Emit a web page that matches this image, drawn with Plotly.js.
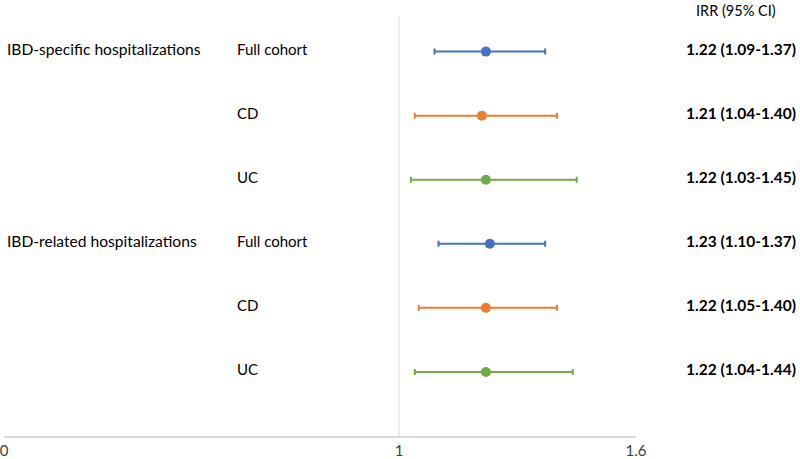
<!DOCTYPE html>
<html>
<head>
<meta charset="utf-8">
<script src="https://cdn.plot.ly/plotly-3.0.1.min.js"></script>
<style>html,body{margin:0;padding:0;background:#fff;}#chart{width:800px;height:459px;}</style>
</head>
<body>
<div id="chart"></div>
<script>
// ---- data ----
const groups = ["IBD-specific hospitalizations", "IBD-related hospitalizations"];
const subgroups = ["Full cohort", "CD", "UC"];
const rows = [1, 2, 3, 4, 5, 6];
const irr = [1.22, 1.21, 1.22, 1.23, 1.22, 1.22];
const ciLow = [1.09, 1.04, 1.03, 1.10, 1.05, 1.04];
const ciHigh = [1.37, 1.40, 1.45, 1.37, 1.40, 1.44];
const colors = ["#4472C4", "#ED7D31", "#70AD47"];
const tickVals = [0, 1, 1.6];
const tickText = ["0", "1", "1.6"];
const headerText = "IRR (95% CI)";

const FONT = "Lato, 'Liberation Sans', sans-serif";

const traces = subgroups.map((sg, k) => {
  const idx = rows.map((r, i) => i).filter(i => i % 3 === k);
  return {
    type: "scatter",
    mode: "markers",
    name: sg,
    x: idx.map(i => irr[i]),
    y: idx.map(i => rows[i]),
    marker: {color: colors[k], size: 10},
    error_x: {
      type: "data",
      symmetric: false,
      array: idx.map(i => ciHigh[i] - irr[i]),
      arrayminus: idx.map(i => irr[i] - ciLow[i]),
      color: colors[k],
      thickness: 2,
      width: 3
    },
    hoverinfo: "skip"
  };
});

const annotations = [];
rows.forEach((r, i) => {
  const fmt = v => v.toFixed(2);
  annotations.push({
    xref: "paper", yref: "y", x: 1.076, y: r, yshift: 3,
    xanchor: "left", yanchor: "middle", showarrow: false,
    text: "<b>" + fmt(irr[i]) + " (" + fmt(ciLow[i]) + "-" + fmt(ciHigh[i]) + ")</b>",
    font: {family: FONT, size: 15.5, color: "#000"}
  });
  annotations.push({
    xref: "paper", yref: "y", x: 0.366, y: r, yshift: 3,
    xanchor: "left", yanchor: "middle", showarrow: false,
    text: subgroups[i % 3],
    font: {family: FONT, size: 15, color: "#000"}
  });
});
groups.forEach((g, j) => {
  annotations.push({
    xref: "paper", yref: "y", x: 0.002, y: rows[j * 3], yshift: 3,
    xanchor: "left", yanchor: "middle", showarrow: false,
    text: g,
    font: {family: FONT, size: 15.6, color: "#000"}
  });
});
annotations.push({
  xref: "paper", yref: "paper", x: 1.158, y: 1, yshift: 7,
  xanchor: "center", yanchor: "middle", showarrow: false,
  text: headerText,
  font: {family: FONT, size: 14.5, color: "#000"}
});

const layout = {
  width: 800, height: 459,
  margin: {l: 4, r: 164, t: 17, b: 23},
  paper_bgcolor: "#fff", plot_bgcolor: "#fff",
  showlegend: false,
  font: {family: FONT, color: "#595959"},
  xaxis: {
    range: [0, 1.6],
    tickvals: tickVals, ticktext: tickText,
    showgrid: false, zeroline: false,
    showline: true, linecolor: "#d9d9d9", linewidth: 2,
    ticks: "", tickfont: {family: FONT, size: 15, color: "#404040"},
    ticklabeloverflow: "allow",
    fixedrange: true
  },
  yaxis: {
    range: [7, 0.46],
    visible: false, showgrid: false, zeroline: false, fixedrange: true
  },
  shapes: [{
    type: "line", xref: "x", yref: "paper",
    x0: 1, x1: 1, y0: 0, y1: 1,
    line: {color: "#d9d9d9", width: 1}, layer: "below"
  }],
  annotations: annotations
};

Plotly.newPlot("chart", traces, layout, {staticPlot: true, displayModeBar: false});
</script>
</body>
</html>
